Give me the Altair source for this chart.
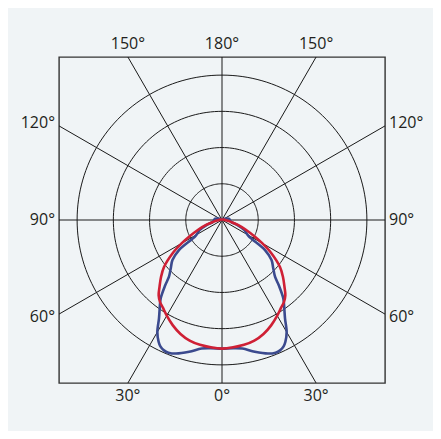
import altair as alt
import pandas as pd
import numpy as np

# Luminous intensity (ring = 100 units), angle measured from nadir (0°)
red_angles = [0, 10, 15, 20, 25, 30, 34, 37, 40, 43, 47, 51, 56, 60, 63, 68, 73, 78, 84, 90, 100, 110, 120]
red_values = [355, 350, 345, 335, 321, 305, 292, 284, 272, 253, 230, 206, 165, 128, 102, 70, 46, 25, 14, 8, 6, 3, 0]

blue_angles = [0, 5, 9, 14, 19, 22, 24, 26, 27.5, 30, 32.6, 35, 38, 41, 43, 47, 51, 55, 59, 66, 72, 79, 90, 100, 115, 135]
blue_values = [355, 355, 359, 375, 390, 395, 394, 388, 379, 357, 323, 300, 275, 239, 215, 193, 176, 145, 85, 67, 45, 25, 22, 19, 8, 0]

ring_values = [100, 200, 300, 400]
spoke_angles = [0, 30, 60, 90, 120, 150]
label_angles = [-150, 180, 150, -120, -90, -60, 120, 90, 60, -30, 0, 30]

HALF = 450  # half-size of the square frame in data units


def closed_curve(name, angs, vals):
    signed = [-a for a in reversed(angs)] + list(angs[1:])
    rv = list(reversed(vals)) + list(vals[1:])
    return pd.DataFrame({"series": name, "a": signed, "r": rv, "i": range(len(signed))})


curves = pd.concat([closed_curve("blue", blue_angles, blue_values),
                    closed_curve("red", red_angles, red_values)], ignore_index=True)

circle_rows = []
for rv in ring_values:
    for k, a in enumerate(np.arange(0, 361, 2)):
        circle_rows.append({"ring": rv, "a": float(a), "r": rv, "i": k})
circles = pd.DataFrame(circle_rows)

spokes = pd.DataFrame({"a": spoke_angles})
labels = pd.DataFrame({"a": label_angles})

sx = alt.Scale(domain=[-HALF, HALF], nice=False, zero=False)
sy = alt.Scale(domain=[-HALF, HALF], nice=False, zero=False)

polar_x = "datum.r*sin(datum.a*PI/180)"
polar_y = "-datum.r*cos(datum.a*PI/180)"

grid = alt.Chart(circles).transform_calculate(x=polar_x, y=polar_y).mark_line(
    color="#1a1a1a", strokeWidth=1, clip=True
).encode(
    x=alt.X("x:Q", scale=sx, axis=None),
    y=alt.Y("y:Q", scale=sy, axis=None),
    detail="ring:N",
    order="i:Q",
)

spoke = alt.Chart(spokes).transform_calculate(
    x1="-700*sin(datum.a*PI/180)", y1="700*cos(datum.a*PI/180)",
    x2="700*sin(datum.a*PI/180)", y2="-700*cos(datum.a*PI/180)",
).mark_rule(color="#1a1a1a", strokeWidth=1, clip=True).encode(
    x=alt.X("x1:Q", scale=sx, axis=None),
    y=alt.Y("y1:Q", scale=sy, axis=None),
    x2="x2:Q",
    y2="y2:Q",
)

curve_lines = alt.Chart(curves).transform_calculate(x=polar_x, y=polar_y).mark_line(
    strokeWidth=2.6, interpolate="catmull-rom", strokeJoin="round"
).encode(
    x=alt.X("x:Q", scale=sx, axis=None),
    y=alt.Y("y:Q", scale=sy, axis=None),
    color=alt.Color("series:N", scale=alt.Scale(domain=["blue", "red"], range=["#3b4a8e", "#cf2035"]), legend=None),
    order="i:Q",
)

lab_base = alt.Chart(labels).transform_calculate(
    s="sin(datum.a*PI/180)", c="cos(datum.a*PI/180)"
).transform_calculate(
    t=f"{HALF}/max(abs(datum.s), abs(datum.c))"
).transform_calculate(
    x="datum.t*datum.s",
    y="-datum.t*datum.c - (abs(datum.c) < 0.7 ? 18*datum.c : 0)",
    txt="toString(abs(datum.a)) + '°'",
)

text_kw = dict(font="Open Sans", fontSize=16, color="#231f20", baseline="middle")
enc = dict(x=alt.X("x:Q", scale=sx, axis=None), y=alt.Y("y:Q", scale=sy, axis=None), text="txt:N")

lab_top = lab_base.transform_filter("datum.c < -0.7").mark_text(align="center", dy=-13, **text_kw).encode(**enc)
lab_bot = lab_base.transform_filter("datum.c > 0.7").mark_text(align="center", dy=13, **text_kw).encode(**enc)
lab_left = lab_base.transform_filter("abs(datum.c) <= 0.7 && datum.s < 0").mark_text(align="right", dx=-4, **text_kw).encode(**enc)
lab_right = lab_base.transform_filter("abs(datum.c) <= 0.7 && datum.s > 0").mark_text(align="left", dx=4, **text_kw).encode(**enc)

chart = alt.layer(grid, spoke, curve_lines, lab_top, lab_bot, lab_left, lab_right).properties(
    width=326,
    height=326,
    autosize=alt.AutoSizeParams(type="none"),
    padding={"left": 51, "top": 49, "right": 48, "bottom": 48},
    background="#f0f4f6",
).configure_view(stroke="#333333", strokeWidth=1.4)

chart.save("out.html", embed_options={"renderer": "svg", "actions": False})
